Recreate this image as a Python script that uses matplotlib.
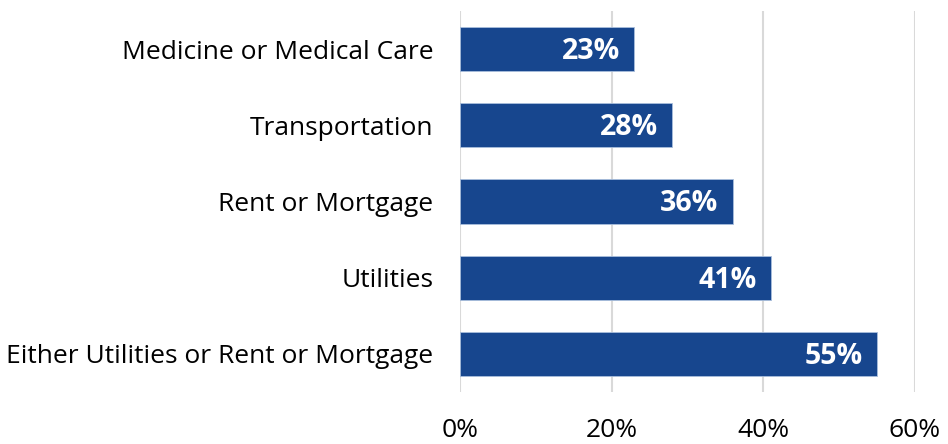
import matplotlib
matplotlib.use("Agg")
import matplotlib.pyplot as plt

# data
categories = ["Medicine or Medical Care", "Transportation", "Rent or Mortgage",
              "Utilities", "Either Utilities or Rent or Mortgage"]
values = [23, 28, 36, 41, 55]
xticks = [0, 20, 40, 60]
xtick_labels = ["0%", "20%", "40%", "60%"]

plt.rcParams['font.family'] = ['Open Sans', 'DejaVu Sans']

fig = plt.figure(figsize=(9.48, 4.44), dpi=100)
ax = fig.add_axes([0.4852, 0.117, 0.48, 0.858])

bar_color = "#17468e"
ypos = range(len(categories))
ax.barh(ypos, values, height=0.58, color=bar_color, edgecolor="#a9bedc", linewidth=0.6, zorder=3)

# value labels inside bar ends
for y, v in zip(ypos, values):
    ax.text(v - 1.9, y + 0.03, f"{v}%", ha="right", va="center", color="white",
            fontsize=20.5, fontweight="bold", zorder=4)

ax.set_xlim(0, 60)
ax.set_ylim(4.5, -0.5)
ax.set_xticks(xticks)
ax.set_xticklabels(xtick_labels, fontsize=19)
ax.set_yticks(list(ypos))
ax.set_yticklabels(categories, fontsize=19)
ax.tick_params(axis="x", length=0, pad=19)
ax.tick_params(axis="y", length=0, pad=19)

ax.grid(axis="x", color="#d9d9d9", linewidth=1.5, zorder=0)
for s in ax.spines.values():
    s.set_visible(False)

fig.savefig("out.png", dpi=100)
